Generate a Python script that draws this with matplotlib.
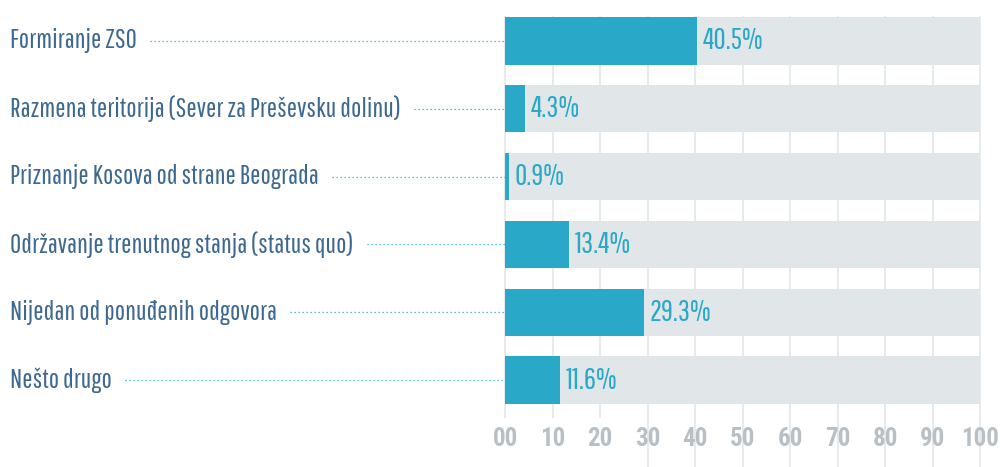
import matplotlib
matplotlib.use("Agg")
import matplotlib.pyplot as plt
import numpy as np

categories = [
    "Formiranje ZSO",
    "Razmena teritorija (Sever za Preševsku dolinu)",
    "Priznanje Kosova od strane Beograda",
    "Održavanje trenutnog stanja (status quo)",
    "Nijedan od ponuđenih odgovora",
    "Nešto drugo",
]
values = [40.5, 4.3, 0.9, 13.4, 29.3, 11.6]
tick_values = [0, 10, 20, 30, 40, 50, 60, 70, 80, 90, 100]
tick_labels = ["00", "10", "20", "30", "40", "50", "60", "70", "80", "90", "100"]

teal = "#29a8c8"
track = "#e1e6e9"
label_col = "#3d6890"
tick_col = "#b9c0c5"
grid_col = "#e6e9ec"

W, H = 1006, 467
fig = plt.figure(figsize=(W / 100, H / 100), dpi=100)
# axes spans x 505..980 px, y 7..414 px
ax = fig.add_axes([505 / W, 1 - 414 / H, 475 / W, 407 / H])

y = np.arange(len(categories))
ax.barh(y, [100] * len(values), height=0.70, color=track, zorder=2)
ax.barh(y, values, height=0.70, color=teal, zorder=3)

ax.set_xlim(0, 100)
ax.set_ylim(len(categories) - 0.5, -0.5)

for t in tick_values:
    low = -0.008 if t <= 20 else -0.14
    ax.axvline(t, ymin=low, ymax=0.975, color=grid_col, lw=1.3, zorder=1, clip_on=False)

ax.set_xticks(tick_values)
ax.set_xticklabels(tick_labels, fontfamily="Roboto Condensed", fontweight="bold",
                   fontsize=18, color=tick_col)
ax.tick_params(axis="x", length=0, pad=9)
ax.set_yticks([])
for s in ax.spines.values():
    s.set_visible(False)

for yi, v in zip(y, values):
    ax.text(v + 1.2, yi, f"{v}%", va="center", ha="left", color=teal,
            fontfamily="Pathway Gothic One", fontsize=21.5, zorder=4)

fig.canvas.draw()
renderer = fig.canvas.get_renderer()
ax_left_px = ax.get_window_extent().x0
for yi, cat in zip(y, categories):
    ypx = ax.transData.transform((0, yi))[1]
    yfig = ypx / fig.bbox.height
    txt = fig.text(10 / W, yfig, cat, va="center", ha="left",
                   color=label_col, fontfamily="Pathway Gothic One", fontsize=19.5)
    x1 = txt.get_window_extent(renderer).x1
    fig.add_artist(plt.Line2D([(x1 + 13) / W, ax_left_px / W],
                              [yfig, yfig], color=teal, lw=0.9, ls=(0, (1, 2.2))))

fig.savefig("out.png", dpi=100)
